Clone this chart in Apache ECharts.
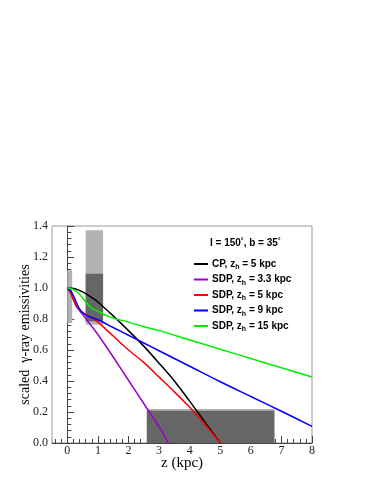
<!DOCTYPE html>
<html>
<head>
<meta charset="utf-8">
<script src="https://cdn.jsdelivr.net/npm/echarts@6/dist/echarts.min.js"></script>
<style>
  html, body { margin: 0; padding: 0; background: #fff; }
  #chart { width: 374px; height: 484px; }
</style>
</head>
<body>
<div id="chart"></div>
<script>
// z (kpc) and scaled emissivity
const cpZ = [0, 0.25, 0.5, 0.75, 1, 1.5, 2, 2.5, 3, 3.5, 4, 4.5, 5];
const cpY = [1.0, 0.995, 0.975, 0.945, 0.91, 0.82, 0.725, 0.625, 0.515, 0.4, 0.27, 0.135, 0];

const sdp33Z = [0, 0.1, 0.2, 0.3, 0.5, 0.75, 1, 1.5, 2, 2.5, 3, 3.3];
const sdp33Y = [1.0, 0.975, 0.925, 0.88, 0.83, 0.765, 0.7, 0.555, 0.405, 0.255, 0.105, 0];

const sdp5Z = [0, 0.1, 0.2, 0.3, 0.4, 0.6, 0.8, 1, 1.5, 2, 2.5, 3, 3.5, 4, 4.5, 5];
const sdp5Y = [1.0, 0.97, 0.925, 0.885, 0.86, 0.83, 0.805, 0.78, 0.69, 0.6, 0.52, 0.425, 0.33, 0.23, 0.12, 0];

const sdp9Z = [0, 0.1, 0.2, 0.3, 0.4, 0.5, 0.6, 1, 1.5, 2, 2.5, 3, 4, 5, 6, 7, 8];
const sdp9Y = [1.0, 0.985, 0.95, 0.905, 0.865, 0.84, 0.825, 0.795, 0.745, 0.695, 0.645, 0.595, 0.495, 0.395, 0.3, 0.205, 0.107];

const sdp15Z = [0, 0.2, 0.4, 0.6, 0.8, 1, 1.3, 1.6, 2, 2.5, 3, 4, 5, 6, 7, 8];
const sdp15Y = [1.0, 0.99, 0.96, 0.91, 0.87, 0.85, 0.82, 0.8, 0.78, 0.75, 0.725, 0.665, 0.605, 0.545, 0.485, 0.426];

// shaded boxes: [z0, z1, y0, y1]
const lightBoxes = [[0, 0.16, 0.774, 1.114], [0.6, 1.17, 0.763, 1.372], [2.6, 6.77, 0, 0.219]];
const darkBoxes = [[0.6, 1.17, 0.785, 1.092], [2.6, 6.77, 0, 0.208]];

const seriesNames = ['CP', 'SDP', 'SDP', 'SDP', 'SDP'];
const haloSizes = ['5', '3.3', '5', '9', '15'];
const lineColors = ['#000000', '#9900cc', '#ff0000', '#0000ff', '#00ee00'];

const xLabels = [0, 1, 2, 3, 4, 5, 6, 7, 8];
const xMinor = [];
for (let v = -0.4; v < 8.01; v += 0.2) {
  const r = Math.round(v * 10) / 10;
  if (Math.abs(r - Math.round(r)) > 1e-6) xMinor.push(r);
}

const zip = (xs, ys) => xs.map((x, i) => [x, ys[i]]);
const lineData = [
  zip(cpZ, cpY),
  zip(sdp33Z, sdp33Y),
  zip(sdp5Z, sdp5Y),
  zip(sdp9Z, sdp9Y),
  zip(sdp15Z, sdp15Y),
];
const names = seriesNames.map((s, i) => `${s}, z_h = ${haloSizes[i]} kpc`);

const chart = echarts.init(document.getElementById('chart'));

const boxSeries = (data, color) => ({
  type: 'custom',
  silent: true,
  z: 1,
  xAxisIndex: 0,
  yAxisIndex: 0,
  data: data,
  renderItem: (params, api) => {
    const p0 = api.coord([api.value(0), api.value(3)]);
    const p1 = api.coord([api.value(1), api.value(2)]);
    return {
      type: 'rect',
      shape: { x: p0[0], y: p0[1], width: p1[0] - p0[0], height: p1[1] - p0[1] },
      style: { fill: color },
    };
  },
});

const option = {
  animation: false,
  title: {
    text: '{t|l = 150}{d|°}{t|, b = 35}{d|°}',
    left: 205,
    top: 233,
    textStyle: {
      rich: {
        t: { fontFamily: 'Liberation Sans', fontWeight: 'bold', fontSize: 10, color: '#000' },
        d: { fontFamily: 'Liberation Sans', fontWeight: 'bold', fontSize: 7, color: '#000', padding: [0, 0, 4, 0] },
      },
    },
  },
  legend: {
    orient: 'vertical',
    left: 189,
    top: 254,
    itemWidth: 14,
    itemHeight: 2,
    itemGap: 3.5,
    icon: 'rect',
    data: names,
    formatter: (name) => {
      const i = names.indexOf(name);
      return `{b|${seriesNames[i]}, z}{s|h}{b| = ${haloSizes[i]} kpc}`;
    },
    textStyle: {
      padding: [0, 0, 0, -1],
      rich: {
        b: { fontFamily: 'Liberation Sans', fontWeight: 'bold', fontSize: 10, color: '#000', height: 14 },
        s: { fontFamily: 'Liberation Sans', fontWeight: 'bold', fontSize: 7, color: '#000', padding: [7, 0, 0, 0] },
      },
    },
  },
  grid: {
    left: 52,
    right: 62,
    top: 226,
    bottom: 41,
    show: true,
    borderColor: '#999',
    borderWidth: 1,
  },
  xAxis: [
    {
      type: 'value',
      min: -0.5,
      max: 8,
      position: 'bottom',
      name: 'z (kpc)',
      nameLocation: 'middle',
      nameGap: 13,
      nameMoveOverlap: false,
      nameTextStyle: { fontFamily: 'Liberation Serif', fontSize: 15, color: '#000' },
      axisLine: { show: true, lineStyle: { color: '#444', width: 1 } },
      axisTick: { show: true, inside: true, length: 7, customValues: xLabels, lineStyle: { color: '#444' } },
      axisLabel: {
        customValues: xLabels,
        fontFamily: 'Liberation Serif',
        fontSize: 12,
        color: '#222',
        margin: 2,
      },
      splitLine: { show: false },
    },
    {
      type: 'value',
      min: -0.5,
      max: 8,
      position: 'bottom',
      axisLine: { show: false },
      axisTick: { show: true, inside: true, length: 4, customValues: xMinor, lineStyle: { color: '#444' } },
      axisLabel: { show: false },
      splitLine: { show: false },
    },
  ],
  yAxis: {
    type: 'value',
    min: 0,
    max: 1.4,
    interval: 0.2,
    name: 'scaled  γ-ray emissivities',
    nameLocation: 'middle',
    nameGap: 20,
    nameMoveOverlap: false,
    nameTextStyle: { fontFamily: 'Liberation Serif', fontSize: 14, color: '#000' },
    axisLine: { show: true, lineStyle: { color: '#444', width: 1 } },
    axisTick: { show: true, inside: true, length: 7, lineStyle: { color: '#444' } },
    minorTick: { show: true, splitNumber: 5, length: 4, lineStyle: { color: '#444' } },
    axisLabel: {
      formatter: (v) => v.toFixed(1),
      fontFamily: 'Liberation Serif',
      fontSize: 12,
      color: '#222',
      margin: 4,
    },
    splitLine: { show: false },
  },
  series: [
    boxSeries(lightBoxes, '#b3b3b3'),
    boxSeries(darkBoxes, '#666666'),
    ...lineData.map((d, i) => ({
      name: names[i],
      type: 'line',
      data: d,
      smooth: 0.3,
      showSymbol: false,
      symbol: 'none',
      z: 3,
      lineStyle: { color: lineColors[i], width: 1.5 },
      itemStyle: { color: lineColors[i] },
    })),
  ],
};

chart.setOption(option);
</script>
</body>
</html>
